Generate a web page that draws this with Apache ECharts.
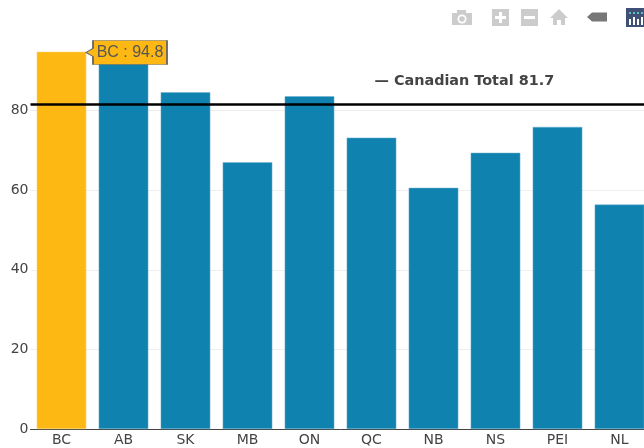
<!DOCTYPE html>
<html><head><meta charset="utf-8">
<style>html,body{margin:0;padding:0;background:#fff;overflow:hidden;width:644px;height:448px}#c{width:660px;height:448px}</style>
<script src="https://cdn.jsdelivr.net/npm/echarts@6/dist/echarts.min.js"></script>
</head><body><div id="c"></div>
<script>
const categories = ['BC','AB','SK','MB','ON','QC','NB','NS','PEI','NL'];
const values = [94.8,92,84.6,67,83.6,73.2,60.6,69.4,75.9,56.4];
const totalValue = 81.7;
const totalLabel = '— Canadian Total 81.7';
const highlighted = 'BC';
const yTicks = [0,20,40,60,80];
const barColor = '#0F82B0', hiColor = '#FDB813', textColor = '#444';
const calloutPath = 'path://M7 0H81V24H7V16L0 12L7 8Z';

const chart = echarts.init(document.getElementById('c'), null, {renderer:'canvas'});
const rect = (x,y,width,height,fill) => ({type:'rect', silent:true, shape:{x,y,width,height}, style:{fill}});
const poly = (points,fill) => ({type:'polygon', silent:true, shape:{points}, style:{fill}});
const circle = (cx,cy,r,fill) => ({type:'circle', silent:true, shape:{cx,cy,r}, style:{fill}});
chart.setOption({
  animation:false,
  textStyle:{fontFamily:'"DejaVu Sans",sans-serif'},
  grid:{left:30.5, right:9.5, top:31, bottom:19, containLabel:false},
  xAxis:{type:'category', data:categories,
    axisLine:{show:true, lineStyle:{color:'#444', width:1}}, axisTick:{show:false},
    axisLabel:{color:textColor, fontSize:14, margin:4}},
  yAxis:{type:'value', min:0, max:100, interval:20,
    axisLine:{show:false}, axisTick:{show:false},
    splitLine:{lineStyle:{color:'#eee', width:1}, showMaxLine:false},
    axisLabel:{color:textColor, fontSize:14, margin:2, padding:[4,0,0,0], showMaxLabel:false,
      formatter:v=>yTicks.includes(v)?String(v):''}},
  series:[{
    type:'bar', barWidth:'80%', z:2,
    data:values.map((v,i)=>({value:v, itemStyle:{color:categories[i]===highlighted?hiColor:barColor,
      borderColor:categories[i]===highlighted?'#FDD77F':'#6FB3D0', borderWidth:0.5}})),
    markLine:{silent:true, symbol:'none', z:5, animation:false,
      lineStyle:{color:'#000', width:2.5, type:'solid'}, label:{show:false},
      data:[{yAxis:totalValue}]},
    markPoint:{silent:true, z:6, animation:false,
      data:[{coord:[highlighted, values[categories.indexOf(highlighted)]],
        value:values[categories.indexOf(highlighted)],
        symbol:calloutPath, symbolKeepAspect:false, symbolSize:[81,24], symbolOffset:[65,0.8],
        itemStyle:{color:hiColor, borderColor:'#666', borderWidth:1},
        label:{show:true, position:'inside', offset:[3.5,0], color:'#555', fontSize:16,
          fontFamily:'Arial,"Liberation Sans",sans-serif',
          formatter:p=>highlighted+' : '+p.value}}]}
  }],
  graphic:[
    {type:'text', silent:true, x:374.5, y:74, style:{text:totalLabel, fill:textColor, font:'bold 14.4px "DejaVu Sans",sans-serif'}},
    rect(452,13,20,12,'#ccc'), rect(457,10,9,4,'#ccc'), circle(462,19,4.5,'#fff'), circle(462,19,2.8,'#ccc'),
    rect(492,9,17,17,'#ccc'), rect(499,12,3,11,'#fff'), rect(495,16,11,3,'#fff'),
    rect(521,9,17,17,'#ccc'), rect(524,16,11,3,'#fff'),
    poly([[559,9],[568,18],[565,18],[565,25],[561,25],[561,20],[557,20],[557,25],[553,25],[553,18],[550,18]],'#ccc'),
    poly([[587,17],[592,12.5],[607,12.5],[607,21.5],[592,21.5]],'#777'),
    rect(626,8,18,19,'#3F4F75'),
    rect(629,19,2,6,'#fff'), rect(633,17,2,8,'#fff'), rect(637,19,2,6,'#fff'), rect(641,17,2,8,'#fff'),
    rect(629,12,2,2,'#5fc0b5'), rect(633,12,2,2,'#5fc0b5'), rect(637,12,2,2,'#5fc0b5'), rect(641,12,2,2,'#5fc0b5')
  ]
});
</script></body></html>
